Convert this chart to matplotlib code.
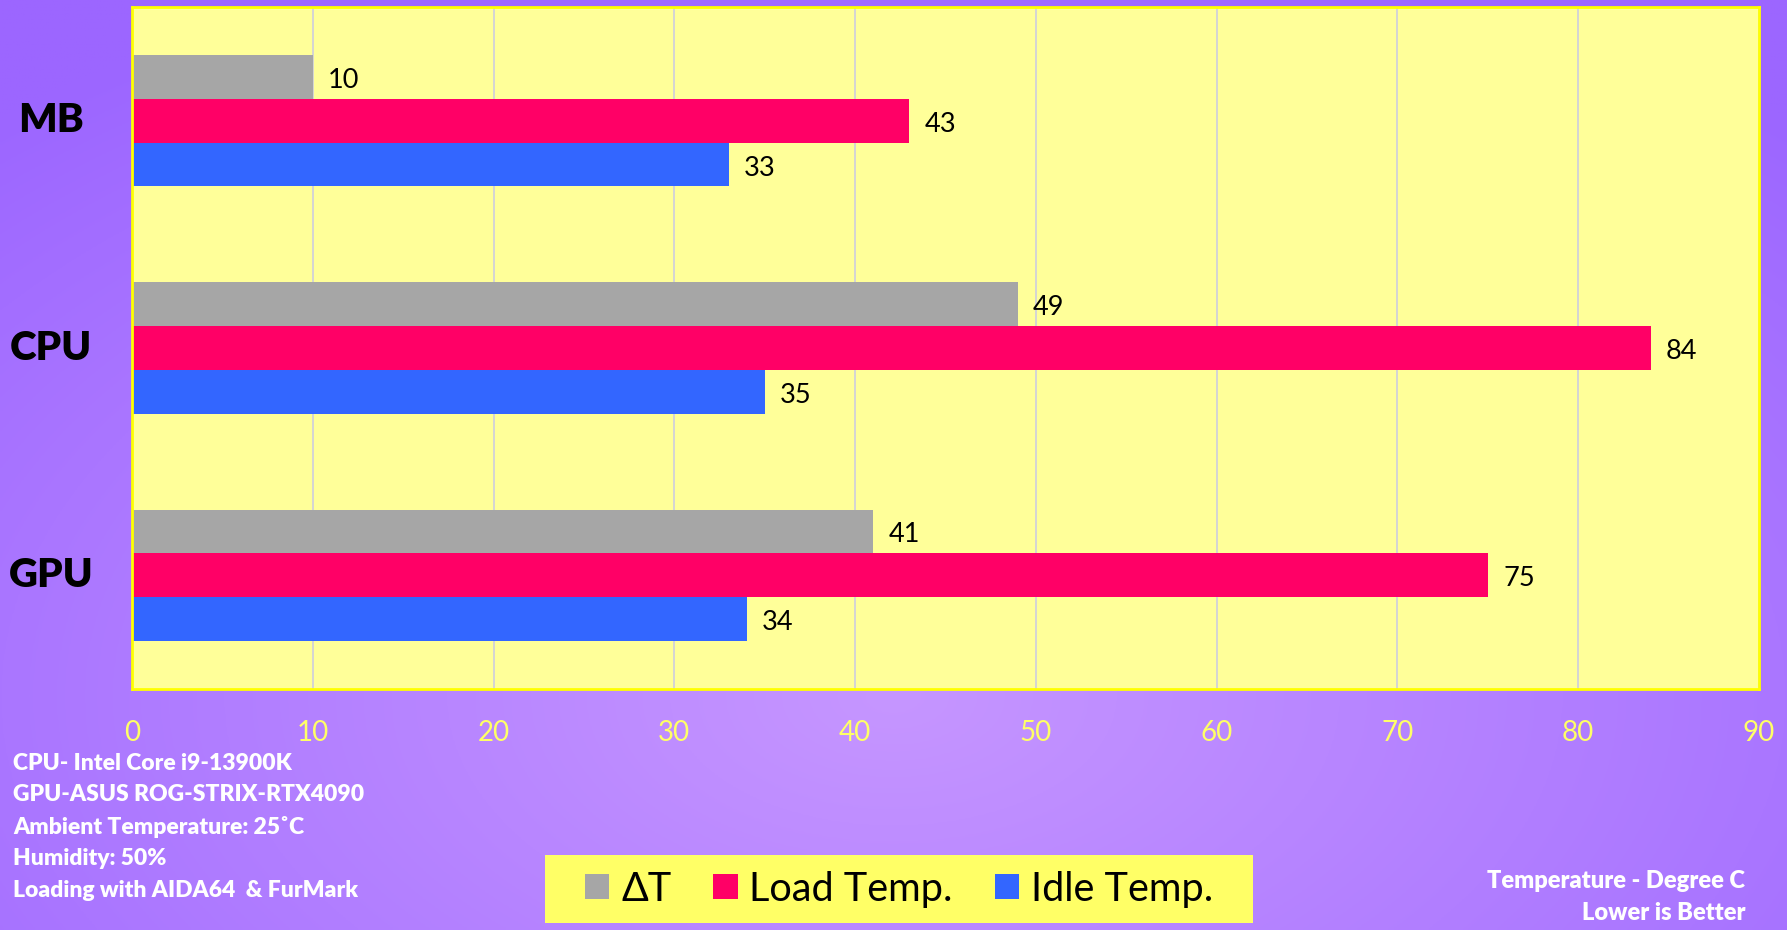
import numpy as np
import matplotlib
matplotlib.use("Agg")
import matplotlib.pyplot as plt
from matplotlib.patches import Patch, Rectangle
from matplotlib.transforms import blended_transform_factory

plt.rcParams['font.family'] = ['Lato', 'DejaVu Sans']

# temperatures per component
components = ["MB", "CPU", "GPU"]
delta_t = [10, 49, 41]
load_temp = [43, 84, 75]
idle_temp = [33, 35, 34]
series_names = ["ΔT", "Load Temp.", "Idle Temp."]
series_colors = ["#A6A6A6", "#FF0066", "#3366FF"]
x_ticks = [0, 10, 20, 30, 40, 50, 60, 70, 80, 90]

notes = ["CPU- Intel Core i9-13900K",
         "GPU-ASUS ROG-STRIX-RTX4090",
         "Ambient Temperature: 25˚C",
         "Humidity: 50%",
         "Loading with AIDA64  & FurMark"]

W, H = 1787, 930
fig = plt.figure(figsize=(W / 100, H / 100), dpi=100)

# purple radial background
bg = fig.add_axes([0, 0, 1, 1], zorder=0)
yy, xx = np.mgrid[0:1:300j, 0:1:600j]
d = np.sqrt(((xx - 0.5) * 1.0) ** 2 + ((yy - 0.75) * 0.9) ** 2)
d = np.clip(d / 0.75, 0, 1)
c_in = np.array([0xC6, 0x96, 0xFF]) / 255
c_out = np.array([0x9C, 0x66, 0xFF]) / 255
img = c_in[None, None, :] * (1 - d[..., None]) + c_out[None, None, :] * d[..., None]
bg.imshow(img, extent=[0, 1, 0, 1], aspect='auto', origin='upper')
bg.axis('off')

# yellow legend panel
bg.add_patch(Rectangle((545 / W, 1 - 923 / H), (1253 - 545) / W, (923 - 855) / H,
                       transform=bg.transAxes, facecolor="#FFFF66", edgecolor='none', zorder=3))

ax = fig.add_axes([132 / W, 1 - 689 / H, (1759 - 132) / W, (689 - 7) / H], zorder=1)
ax.set_facecolor("#FFFF99")

y = np.arange(len(components))
h = 0.193
values = [delta_t, load_temp, idle_temp]
for i, (vals, col) in enumerate(zip(values, series_colors)):
    pos = y + (i - 1) * h
    bars = ax.barh(pos, vals, height=h, color=col, zorder=2)
    for b, v in zip(bars, vals):
        ax.annotate(str(v), (v, b.get_y() + h / 2), xytext=(11, -2.5),
                    textcoords='offset points', va='center', ha='left',
                    fontsize=19.5, color='black')

ax.set_xlim(0, 90)
ax.set_ylim(2.5, -0.5)
ax.set_xticks(x_ticks)
ax.xaxis.grid(True, color="#D4D4D4", linewidth=1.4, zorder=0)
ax.set_axisbelow(True)
ax.tick_params(axis='x', length=0, pad=22, labelsize=20, labelcolor="#FFFF66")
ax.set_yticks([])
for s in ax.spines.values():
    s.set_color("#FFFF00")
    s.set_linewidth(2)

# component labels on the left
tr = blended_transform_factory(fig.transFigure, ax.transData)
for yi, name in zip(y, components):
    ax.text(51 / W, yi, name, transform=tr, ha='center', va='center',
            fontsize=29, fontweight='heavy', color='black')

for k, line in enumerate(notes):
    fig.text(13 / W, 1 - (763 + k * 31.8) / H, line, ha='left', va='center',
             fontsize=16.5, fontweight='heavy', color='white')

fig.text(1745 / W, 1 - 881 / H, "Temperature - Degree C", ha='right', va='center',
         fontsize=17, fontweight='heavy', color='white')
fig.text(1745 / W, 1 - 913 / H, "Lower is Better", ha='right', va='center',
         fontsize=17, fontweight='heavy', color='white')

handles = [Patch(facecolor=c, edgecolor='none') for c in series_colors]
leg = fig.legend(handles, series_names, loc='center', bbox_to_anchor=(899 / W, 1 - 889 / H),
                 ncol=3, frameon=False, fontsize=28.5, handlelength=0.62, handleheight=0.62,
                 handletextpad=0.3, columnspacing=1.05, borderpad=0.45)
leg.set_zorder(5)

fig.savefig("out.png", dpi=100)
